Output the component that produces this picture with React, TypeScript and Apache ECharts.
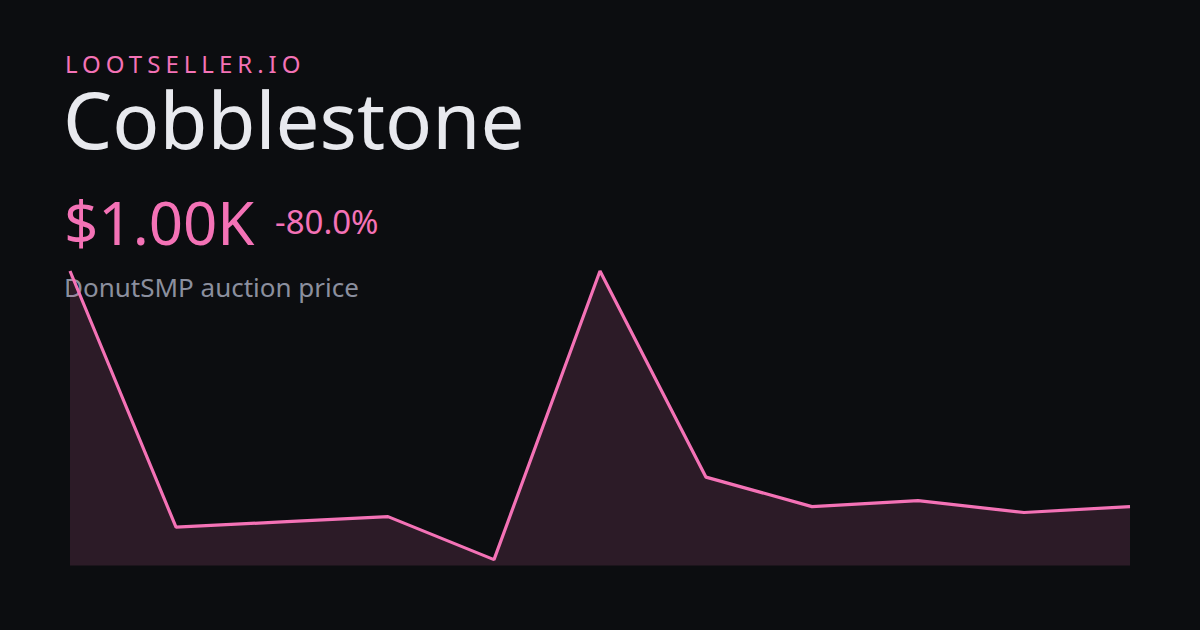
import React, { useEffect, useRef } from "react";
import * as echarts from "echarts";

const categories = ["1", "2", "3", "4", "5", "6", "7", "8", "9", "10", "11"];
const prices = [5000, 650, 740, 830, 100, 5000, 1500, 1000, 1100, 900, 1000];
const brand = "LOOTSELLER.IO";
const itemName = "Cobblestone";
const priceLabel = "$1.00K";
const changeLabel = "-80.0%";
const subtitle = "DonutSMP auction price";

const FONT = "'Noto Sans', 'Open Sans', sans-serif";
const PINK = "#f472b6";

export default function App() {
  const ref = useRef<HTMLDivElement>(null);
  useEffect(() => {
    document.body.style.margin = "0";
    const chart = echarts.init(ref.current!, null, { renderer: "svg" });
    const applySpacing = () => {
      const texts = ref.current?.querySelectorAll("text") || [];
      texts.forEach((t: any) => {
        if (t.textContent === brand) t.style.letterSpacing = "5px";
      });
    };
    chart.on("finished", applySpacing);
    chart.setOption({
      animation: false,
      backgroundColor: "#0c0d10",
      grid: { left: 70, right: 70, top: 271, bottom: 64.5 },
      xAxis: {
        type: "category",
        data: categories,
        boundaryGap: false,
        show: false,
      },
      yAxis: { type: "value", min: 0, max: 5000, show: false },
      series: [
        {
          type: "line",
          data: prices,
          symbol: "none",
          z: 3,
          lineStyle: { color: PINK, width: 3.2 },
          areaStyle: { color: "rgba(244,114,182,0.2)" },
        },
      ],
      graphic: [
        {
          type: "text",
          left: 65,
          top: 51,
          z: 1,
          style: { text: brand, fill: PINK, font: `400 24px ${FONT}` },
        },
        {
          type: "text",
          left: 63,
          top: 80,
          z: 1,
          style: { text: itemName, fill: "#e8e9ee", font: `400 78px ${FONT}` },
        },
        {
          type: "text",
          left: 64,
          top: 192,
          z: 1,
          style: { text: priceLabel, fill: PINK, font: `400 60px ${FONT}` },
        },
        {
          type: "text",
          left: 275,
          top: 205,
          z: 1,
          style: { text: changeLabel, fill: PINK, font: `400 33px ${FONT}` },
        },
        {
          type: "text",
          left: 64,
          top: 274,
          z: 1,
          style: { text: subtitle, fill: "#8b8f9e", font: `400 26px ${FONT}` },
        },
      ],
    });
    applySpacing();
    return () => {
      chart.dispose();
    };
  }, []);
  return <div ref={ref} style={{ width: 1200, height: 630 }} />;
}
